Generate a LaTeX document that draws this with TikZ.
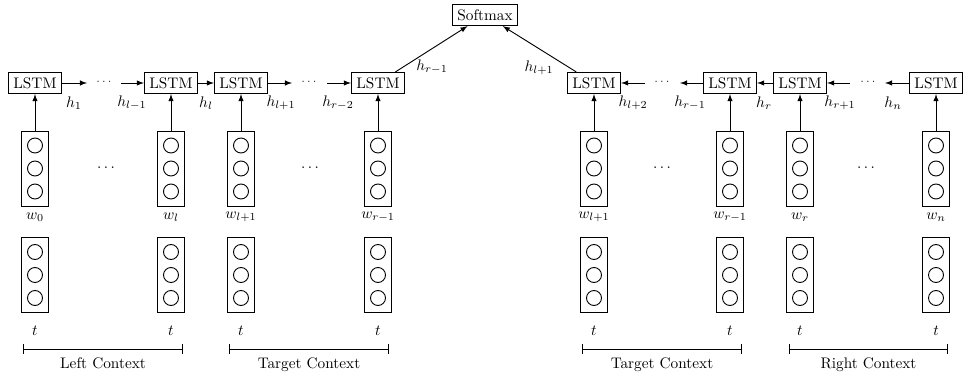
\documentclass[tikz,border=0pt]{standalone}
\usetikzlibrary{arrows}
\begin{document}
\begin{tikzpicture}[x=0.6536pt,y=-0.6536pt,
  lstm/.style={draw,semithick,inner sep=3.33pt},
  vecbox/.style={draw,semithick,minimum width=17.6pt,minimum height=49pt,inner sep=0pt},
  unit/.style={draw,semithick,circle,minimum size=9.8pt,inner sep=0pt},
  arr/.style={semithick,-latex},
  lbl/.style={inner sep=1pt},
  smalldots/.style={inner sep=0pt,font=\scriptsize}
]
\useasboundingbox (0,0) rectangle (964,376);

% columns
\foreach \i/\x in {1/35,2/171,3/241,4/378,5/594,6/730,7/800,8/936}{
  \node[lstm] (L\i) at (\x,83) {LSTM};
  \node[vecbox] (v\i) at (\x,168.5) {};
  \node[unit] at (\x,145.5) {};
  \node[unit] at (\x,168.5) {};
  \node[unit] at (\x,191.5) {};
  \node[vecbox] (e\i) at (\x,275) {};
  \node[unit] at (\x,252) {};
  \node[unit] at (\x,275) {};
  \node[unit] at (\x,298) {};
  \node (t\i) at (\x,331) {$t$};
  \draw[arr] (v\i) -- (L\i);
}

\node[lstm] (sm) at (485,15) {Softmax};

% word labels
\node at (35,217) {$w_0$};
\node at (171,217) {$w_l$};
\node at (241,217) {$w_{l+1}$};
\node at (378,217) {$w_{r-1}$};
\node at (594,217) {$w_{l+1}$};
\node at (730,217) {$w_{r-1}$};
\node at (800,217) {$w_r$};
\node at (936,217) {$w_n$};

% dots between vectors
\node (vd1) at (106,168) {$\cdots$};
\node (vd2) at (310,168) {$\cdots$};
\node (vd3) at (662,168) {$\cdots$};
\node (vd4) at (866,168) {$\cdots$};

% forward chain
\coordinate (f1a) at (87,83);
\coordinate (f1b) at (121,83);
\node[smalldots] (fd1) at (104,82) {$\cdots$};
\draw[arr] (L1.east) -- (f1a);
\draw[arr] (f1b) -- (L2.west);
\draw[arr] (L2) -- (L3);
\coordinate (f2a) at (292,83);
\coordinate (f2b) at (327,83);
\node[smalldots] (fd2) at (309,82) {$\cdots$};
\draw[arr] (L3.east) -- (f2a);
\draw[arr] (f2b) -- (L4.west);
\draw[arr] (L4) -- (sm);

% backward chain
\coordinate (b1a) at (680,83);
\coordinate (b1b) at (645,83);
\node[smalldots] (bd1) at (662,82) {$\cdots$};
\draw[arr] (L6.west) -- (b1a);
\draw[arr] (b1b) -- (L5.east);
\draw[arr] (L7) -- (L6);
\coordinate (b2a) at (885,83);
\coordinate (b2b) at (850,83);
\node[smalldots] (bd2) at (868,82) {$\cdots$};
\draw[arr] (L8.west) -- (b2a);
\draw[arr] (b2b) -- (L7.east);
\draw[arr] (L5) -- (sm);

% hidden labels
\node[lbl] at (74,103) {$h_1$};
\node[lbl] at (132,103) {$h_{l-1}$};
\node[lbl] at (206,103) {$h_l$};
\node[lbl] at (281,103) {$h_{l+1}$};
\node[lbl] at (338,103) {$h_{r-2}$};
\node[lbl] at (432,67) {$h_{r-1}$};
\node[lbl] at (539,68) {$h_{l+1}$};
\node[lbl] at (633,103) {$h_{l+2}$};
\node[lbl] at (690,103) {$h_{r-1}$};
\node[lbl] at (764,103) {$h_r$};
\node[lbl] at (840,103) {$h_{r+1}$};
\node[lbl] at (893,103) {$h_n$};

% context brackets
\coordinate (c1a) at (23,349); \coordinate (c1b) at (183,349);
\coordinate (c2a) at (229,349); \coordinate (c2b) at (389,349);
\coordinate (c3a) at (582,349); \coordinate (c3b) at (742,349);
\coordinate (c4a) at (789,349); \coordinate (c4b) at (948,349);
\draw[semithick,|-|] (c1a) -- node[below=2pt] {Left Context} (c1b);
\draw[semithick,|-|] (c2a) -- node[below=2pt] {Target Context} (c2b);
\draw[semithick,|-|] (c3a) -- node[below=2pt] {Target Context} (c3b);
\draw[semithick,|-|] (c4a) -- node[below=2pt] {Right Context} (c4b);
\end{tikzpicture}
\end{document}
